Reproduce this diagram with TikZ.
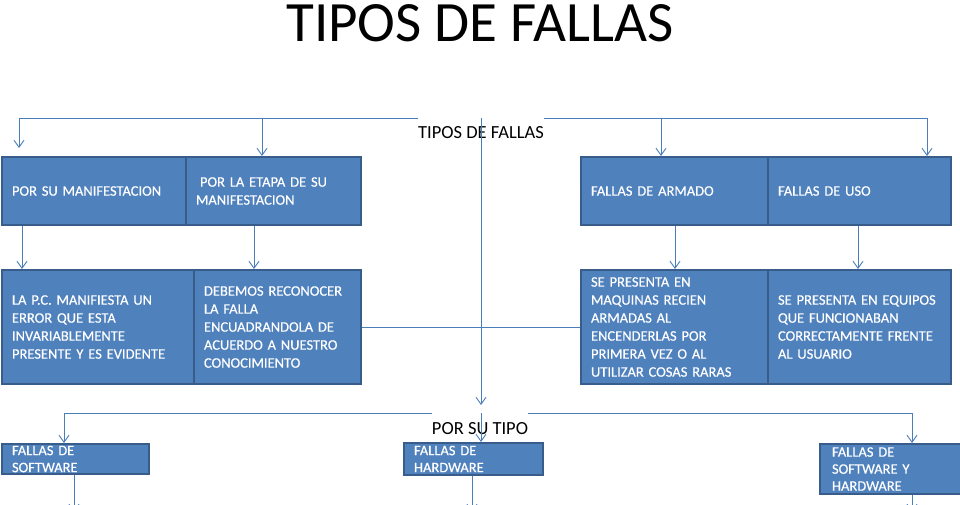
\documentclass[tikz,border=0pt]{standalone}
\usepackage{fontspec}
\setmainfont{Carlito}
\newfontfamily\boxfont{Carlito}[FakeBold=0.4]
\usetikzlibrary{arrows.meta}
\definecolor{boxblue}{HTML}{4F81BD}
\definecolor{boxedge}{HTML}{385D8A}
\definecolor{linkblue}{HTML}{4A7EBB}
\tikzset{
  fallbox/.style={rectangle,draw=boxedge,line width=2pt,fill=boxblue,text=white,
    anchor=north west,inner xsep=10pt,inner ysep=0pt,align=left,
    font=\boxfont\fontsize{14.5}{18}\selectfont},
  link/.style={draw=linkblue,line width=0.9pt},
  linkarrow/.style={link,-{Straight Barb[length=7pt,width=10pt]}},
  tag/.style={fill=white,inner xsep=0pt,minimum height=34pt,font=\fontsize{18.5}{20}\selectfont}
}

\begin{document}
\begin{tikzpicture}[x=1pt,y=-1pt]
        \useasboundingbox (0,0) rectangle (960,504);
        \clip (0,0) rectangle (960,504);
        \node[font=\fontsize{57}{60}\selectfont,anchor=base,inner sep=0pt] (title) at (480,41) {TIPOS DE FALLAS};
        % connector points
        \coordinate (top) at (481,118);
        \coordinate (tl) at (19,118);
        \coordinate (ta) at (262,118);
        \coordinate (tb) at (661,118);
        \coordinate (tr) at (927,118);
        \coordinate (k1) at (22,0);
        \coordinate (k2) at (254,0);
        \coordinate (k3) at (675,0);
        \coordinate (k4) at (858,0);
        \coordinate (mid) at (481,413);
        \coordinate (bl) at (64,413);
        \coordinate (br) at (912,413);
        \coordinate (s1) at (74,512);
        \coordinate (s2) at (472,512);
        \coordinate (s3) at (912,512);
        \draw[link] (tl) -- (tr);
        \draw[link] (bl) -- (br);
        \node[tag] (tipos) at (481,133) {TIPOS DE FALLAS};
        \node[tag] (portipo) at (480,429) {POR SU TIPO};
        % boxes
        \node[fallbox,text width=164pt,minimum height=68pt] (manif) at (1,156) {POR SU MANIFESTACION};
        \node[fallbox,text width=155pt,minimum height=68pt] (etapa) at (185,156) {\hspace{4pt}POR LA ETAPA DE SU\\MANIFESTACION};
        \node[fallbox,text width=167pt,minimum height=68pt] (armado) at (580,156) {FALLAS DE ARMADO};
        \node[fallbox,text width=163pt,minimum height=68pt] (uso) at (767,156) {FALLAS DE USO};
        \node[fallbox,text width=172pt,minimum height=114pt] (evidente) at (1,269) {LA P.C. MANIFIESTA UN\\ERROR QUE ESTA\\INVARIABLEMENTE\\PRESENTE Y ES EVIDENTE};
        \node[fallbox,text width=147pt,minimum height=114pt] (conoce) at (193,269) {DEBEMOS RECONOCER\\LA FALLA\\ENCUADRANDOLA DE\\ACUERDO A NUESTRO\\CONOCIMIENTO};
        \node[fallbox,text width=167pt,minimum height=114pt] (armadas) at (580,269) {SE PRESENTA EN\\MAQUINAS RECIEN\\ARMADAS AL\\ENCENDERLAS POR\\PRIMERA VEZ O AL\\UTILIZAR COSAS RARAS};
        \node[fallbox,text width=163pt,minimum height=114pt] (equipos) at (767,269) {SE PRESENTA EN EQUIPOS\\QUE FUNCIONABAN\\CORRECTAMENTE FRENTE\\AL USUARIO};
        \node[fallbox,text width=127pt,minimum height=30pt,font=\boxfont\fontsize{14.5}{17}\selectfont] (soft) at (1,443) {FALLAS DE\\SOFTWARE};
        \node[fallbox,text width=119pt,minimum height=32pt,font=\boxfont\fontsize{14.5}{17}\selectfont] (hard) at (403,442) {FALLAS DE\\HARDWARE};
        \node[fallbox,inner xsep=12pt,text width=118pt,minimum height=50pt,font=\boxfont\fontsize{14.5}{17}\selectfont] (ambos) at (819,443) {FALLAS DE\\SOFTWARE Y\\HARDWARE};
        % arrows
        \draw[linkarrow,shorten >=8pt] (tl) -- (tl |- manif.north);
        \draw[linkarrow] (ta) -- (ta |- etapa.north);
        \draw[linkarrow] (tb) -- (tb |- armado.north);
        \draw[linkarrow] (tr) -- (tr |- uso.north);
        \draw[linkarrow] (top) -- ([yshift=8pt]mid);
        \draw[linkarrow] (k1 |- manif.south) -- (k1 |- evidente.north);
        \draw[linkarrow] (k2 |- etapa.south) -- (k2 |- conoce.north);
        \draw[linkarrow] (k3 |- armado.south) -- (k3 |- armadas.north);
        \draw[linkarrow] (k4 |- uso.south) -- (k4 |- equipos.north);
        \draw[link] (conoce.east) -- (armadas.west);
        \draw[linkarrow] (bl) -- (bl |- soft.north);
        \draw[linkarrow] (mid) -- (mid |- hard.north);
        \draw[linkarrow] (br) -- (br |- ambos.north);
        \draw[linkarrow] (s1 |- soft.south) -- (s1);
        \draw[linkarrow] (s2 |- hard.south) -- (s2);
        \draw[linkarrow] (s3 |- ambos.south) -- (s3);
      \end{tikzpicture}
\end{document}
